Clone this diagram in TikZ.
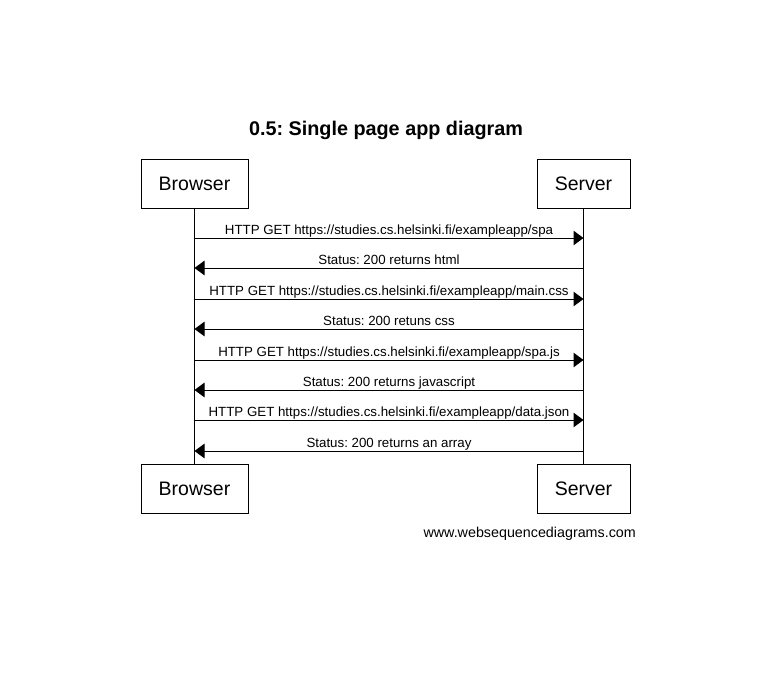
\documentclass[tikz,border=0pt]{standalone}
\usepackage{fontspec}
\setmainfont{Liberation Sans}
\usetikzlibrary{arrows.meta}
\frenchspacing
\begin{document}
\begin{tikzpicture}[x=1pt,y=-1pt,
  actor/.style={draw, line width=1pt, inner sep=0pt, font=\fontsize{19.5}{22}\selectfont},
  lifeline/.style={line width=1pt},
  msg/.style={line width=1pt, -{Triangle[length=10pt,width=14.5pt]}},
  msglabel/.style={anchor=base, yshift=4pt, inner sep=0pt, font=\fontsize{13.3}{15}\selectfont}]
\useasboundingbox[fill=white] (0,0) rectangle (780,686);
\node[anchor=base, inner sep=0pt, font=\bfseries\fontsize{19.8}{22}\selectfont] (title) at (386,135.5) {0.5: Single page app diagram};
\node[actor, minimum width=107pt, minimum height=49pt] (bt) at (194.5,183.5) {Browser};
\node[actor, minimum width=93pt, minimum height=49pt] (st) at (583.5,183.5) {Server};
\node[actor, minimum width=107pt, minimum height=49pt] (bb) at (194.5,488.5) {Browser};
\node[actor, minimum width=93pt, minimum height=49pt] (sb) at (583.5,488.5) {Server};
\draw[lifeline] (bt.south) -- (bb.north);
\draw[lifeline] (st.south) -- (sb.north);
\foreach \i/\y in {1/238,2/268,3/299,4/329,5/360,6/390,7/420,8/451} {
  \coordinate (b\i) at (194.5,\y);
  \coordinate (s\i) at (583.5,\y);
}
\draw[msg] (b1) -- (s1) node[msglabel, midway] (m1) {HTTP GET https://studies.cs.helsinki.fi/exampleapp/spa};
\draw[msg] (s2) -- (b2) node[msglabel, midway] (m2) {Status: 200 returns html};
\draw[msg] (b3) -- (s3) node[msglabel, midway] (m3) {HTTP GET https://studies.cs.helsinki.fi/exampleapp/main.css};
\draw[msg] (s4) -- (b4) node[msglabel, midway] (m4) {Status: 200 retuns css};
\draw[msg] (b5) -- (s5) node[msglabel, midway] (m5) {HTTP GET https://studies.cs.helsinki.fi/exampleapp/spa.js};
\draw[msg] (s6) -- (b6) node[msglabel, midway] (m6) {Status: 200 returns javascript};
\draw[msg] (b7) -- (s7) node[msglabel, midway] (m7) {HTTP GET https://studies.cs.helsinki.fi/exampleapp/data.json};
\draw[msg] (s8) -- (b8) node[msglabel, midway] (m8) {Status: 200 returns an array};
\node[anchor=base east, inner sep=0pt, font=\fontsize{14.3}{16}\selectfont] (footer) at (636,537) {www.websequencediagrams.com};
\end{tikzpicture}
\end{document}
